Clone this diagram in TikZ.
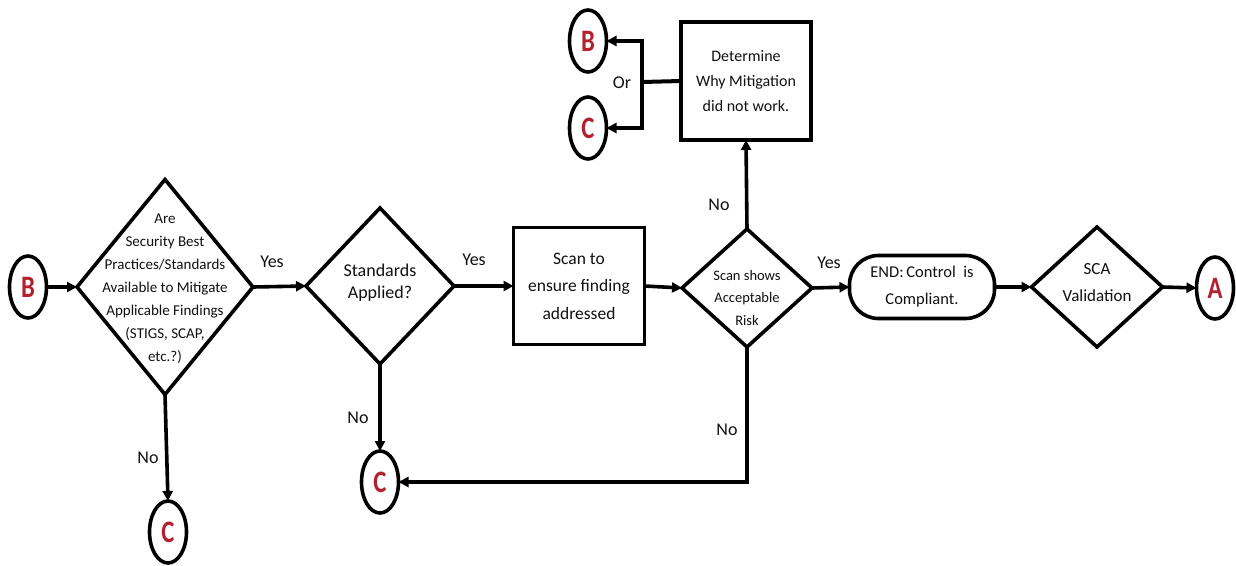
\documentclass[tikz,border=0pt]{standalone}
\usepackage{fontspec}
\setmainfont{Carlito}
\usetikzlibrary{shapes.geometric,arrows.meta}
\definecolor{letterred}{HTML}{B3202E}
\definecolor{inkblack}{HTML}{111111}
\newcommand{\tallletter}[1]{\scalebox{0.95}[1.2]{#1}}
\tikzset{
  shapeline/.style={draw=black, line width=3.6pt, fill=white, inner sep=0pt, outer sep=0pt},
  decision/.style={shapeline, diamond},
  process/.style={shapeline, rectangle},
  terminal/.style={shapeline, rectangle, rounded corners=29pt},
  connector/.style={shapeline, ellipse, minimum width=37pt, minimum height=62pt,
    font=\fontsize{26}{26}\selectfont\bfseries, text=letterred},
  txt/.style={align=center, inner sep=0pt, text=inkblack},
  lbl/.style={inner sep=0pt, text=inkblack, font=\fontsize{18}{18}\selectfont},
  flow/.style={draw=black, line width=3.6pt, -{Triangle[length=10pt,width=10pt]}},
  plain/.style={draw=black, line width=4pt},
}
\begin{document}
\begin{tikzpicture}[x=1pt,y=-1pt]
\useasboundingbox (0,0) rectangle (1236,565);

% shapes
\node[connector] (B1) at (28,287) {\tallletter{B}};
\node[decision, minimum width=176pt, minimum height=215pt] (d1) at (165,287) {};
\node[txt, font=\fontsize{15}{23}\selectfont] (d1t) at (165,289)
  {Are\\Security Best\\Practices/Standards\\Available to Mitigate\\Applicable Findings\\(STIGS, SCAP,\\etc.?)};
\node[decision, minimum width=148pt, minimum height=156pt] (d2) at (380,286) {};
\node[txt, font=\fontsize{18}{22}\selectfont] (d2t) at (380,283) {Standards\\Applied?};
\node[process, minimum width=131pt, minimum height=117pt,
  font=\fontsize{17.5}{27.5}\selectfont, align=center, text=inkblack] (r1) at (579,286)
  {Scan to\\ensure finding\\addressed};
\node[decision, minimum width=130pt, minimum height=118pt] (d3) at (747,288) {};
\node[txt, font=\fontsize{14.5}{22.5}\selectfont] (d3t) at (747,298) {Scan shows\\Acceptable\\Risk};
\node[process, minimum width=130pt, minimum height=118pt,
  font=\fontsize{16}{25}\selectfont, align=center, text=inkblack] (r2) at (746,81)
  {Determine\\Why Mitigation\\did not work.};
\node[connector] (B2) at (588,41) {\tallletter{B}};
\node[connector] (C2) at (588,128) {\tallletter{C}};
\node[terminal, minimum width=145pt, minimum height=63pt,
  font=\fontsize{16.5}{27}\selectfont, align=center, text=inkblack] (end) at (922,287)
  {END:\,Control\ \ is\\Compliant.};
\node[decision, minimum width=131pt, minimum height=120pt] (d4) at (1097,287) {};
\node[txt, font=\fontsize{17}{27}\selectfont] (d4t) at (1097,283) {SCA\\Validation};
\node[connector] (A) at (1215,288) {\tallletter{A}};
\node[connector] (C1) at (380,482) {\tallletter{C}};
\node[connector] (C0) at (168,532) {\tallletter{C}};

% junction beside the "Determine" box
\coordinate (j) at (642,82);

% connectors
\draw[flow] (B1.east) -- (d1.west);
\draw[flow] (d1.east) -- (d2.west);
\draw[flow] (d2.east) -- (r1.west);
\draw[flow] (r1.east) -- (d3.west);
\draw[flow] (d3.east) -- (end.west);
\draw[flow] (end.east) -- (d4.west);
\draw[flow] (d4.east) -- (A.west);
\draw[flow] (d1.south) -- (C0.north);
\draw[flow] (d2.south) -- (C1.north);
\draw[flow] (d3.south) |- (C1.east);
\draw[flow] (d3.north) -- (r2.south);
\draw[plain] (r2.west) -- (j);
\draw[flow] (j) |- (B2.east);
\draw[flow] (j) |- (C2.east);

% branch labels
\node[lbl] (yes1) at (272,262) {Yes};
\node[lbl] (yes2) at (474,260) {Yes};
\node[lbl] (yes3) at (829,263) {Yes};
\node[lbl] (no1) at (148,458) {No};
\node[lbl] (no2) at (358,418) {No};
\node[lbl] (no3) at (719,205) {No};
\node[lbl] (no4) at (727,430) {No};
\node[lbl] (or) at (622,83) {Or};
\end{tikzpicture}
\end{document}
